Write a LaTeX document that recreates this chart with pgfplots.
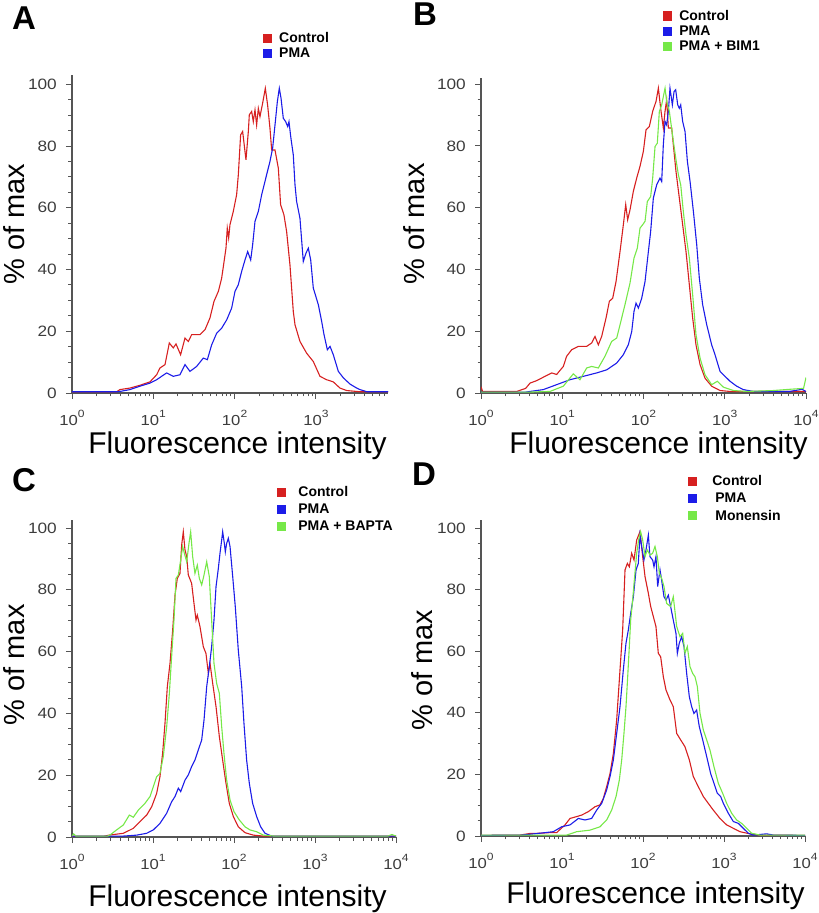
\documentclass[border=0pt]{standalone}
\usepackage{pgfplots}
\pgfplotsset{compat=1.18}
\usepackage{pgfplotstable}
\usepackage{fontspec}
\setmainfont{Liberation Sans}
\newfontfamily\tickfont[FakeStretch=1.15]{Liberation Sans}

\definecolor{cred}{RGB}{214,32,32}
\definecolor{cblue}{RGB}{28,28,232}
\definecolor{cgreen}{RGB}{118,232,72}
\definecolor{axgray}{RGB}{85,85,85}
\definecolor{tkgray}{RGB}{60,60,60}

% e = log10(fluorescence intensity), p = % of max
\pgfplotstableread[row sep=\\]{e p\\ 0 0.4\\ 0.55 0.4\\ 0.590 1.1\\ 0.713 1.6\\ 0.836 2.5\\ 0.959 3.6\\ 1.041 5.9\\ 1.082 8.1\\ 1.144 9.2\\ 1.197 16.2\\ 1.246 14.6\\ 1.279 15.9\\ 1.336 12.4\\ 1.390 17.8\\ 1.431 16.7\\ 1.472 18.9\\ 1.574 18.9\\ 1.636 20.5\\ 1.697 24.3\\ 1.747 29.7\\ 1.800 32.9\\ 1.841 37.2\\ 1.894 46.9\\ 1.910 53.4\\ 1.927 50.2\\ 1.943 54.5\\ 1.984 58.8\\ 2.025 64.2\\ 2.046 70.7\\ 2.074 83.6\\ 2.099 84.7\\ 2.140 75.5\\ 2.169 84.7\\ 2.181 90.1\\ 2.210 91.2\\ 2.230 87.9\\ 2.251 91.7\\ 2.271 86.8\\ 2.292 92.2\\ 2.312 89.5\\ 2.345 93.9\\ 2.378 98.7\\ 2.406 93.3\\ 2.435 85.8\\ 2.456 78.7\\ 2.497 78.7\\ 2.538 72.8\\ 2.566 61.0\\ 2.607 57.7\\ 2.640 52.3\\ 2.681 41.5\\ 2.722 26.4\\ 2.743 22.1\\ 2.804 16.7\\ 2.886 12.9\\ 2.968 10.2\\ 3.050 5.4\\ 3.132 4.3\\ 3.214 3.6\\ 3.296 1.6\\ 3.378 0.8\\ 3.542 0.4\\ 3.887 0.4\\}\Actrl
\pgfplotstableread[row sep=\\]{e p\\ 0 0.4\\ 0.55 0.4\\ 0.590 0.5\\ 0.713 1.1\\ 0.836 2.2\\ 0.959 3.2\\ 1.041 4.3\\ 1.164 6.5\\ 1.246 5.4\\ 1.328 5.9\\ 1.390 9.2\\ 1.451 7.0\\ 1.533 8.6\\ 1.615 11.3\\ 1.665 10.8\\ 1.718 15.6\\ 1.780 19.4\\ 1.841 21.0\\ 1.903 23.7\\ 1.964 27.5\\ 2.005 32.9\\ 2.046 35.1\\ 2.087 39.4\\ 2.128 43.1\\ 2.161 45.8\\ 2.198 43.1\\ 2.222 48.0\\ 2.251 55.6\\ 2.292 58.8\\ 2.333 64.2\\ 2.394 70.7\\ 2.435 75.0\\ 2.468 79.3\\ 2.497 86.8\\ 2.526 94.4\\ 2.550 98.7\\ 2.571 95.5\\ 2.599 89.0\\ 2.628 87.9\\ 2.653 86.3\\ 2.669 87.9\\ 2.690 83.1\\ 2.722 77.1\\ 2.743 67.4\\ 2.763 62.0\\ 2.804 56.6\\ 2.845 42.6\\ 2.878 45.3\\ 2.907 46.9\\ 2.936 43.1\\ 2.968 34.0\\ 3.030 28.6\\ 3.071 23.2\\ 3.100 18.9\\ 3.141 14.0\\ 3.174 15.1\\ 3.214 12.4\\ 3.276 7.0\\ 3.338 4.9\\ 3.419 2.9\\ 3.501 1.6\\ 3.542 1.1\\ 3.63 0.4\\ 3.887 0.4\\}\Apma

\pgfplotstableread[row sep=\\]{e p\\ 0 2\\ 0.02 0.5\\ 0.44 0.5\\ 0.55 1.5\\ 0.603 3.2\\ 0.685 4.0\\ 0.788 5.4\\ 0.870 6.5\\ 0.931 6.0\\ 1.013 8.6\\ 1.054 11.9\\ 1.116 14.0\\ 1.198 15.1\\ 1.301 15.1\\ 1.362 16.2\\ 1.403 18.3\\ 1.444 15.6\\ 1.485 18.3\\ 1.539 24.3\\ 1.580 29.7\\ 1.621 30.7\\ 1.662 36.1\\ 1.711 45.8\\ 1.752 54.5\\ 1.781 61.0\\ 1.805 56.1\\ 1.834 59.3\\ 1.875 65.3\\ 1.916 69.6\\ 1.957 73.4\\ 1.998 78.2\\ 2.031 85.2\\ 2.072 86.3\\ 2.113 91.2\\ 2.154 94.4\\ 2.183 98.7\\ 2.211 92.2\\ 2.244 85.8\\ 2.265 91.2\\ 2.285 94.9\\ 2.306 85.8\\ 2.347 85.8\\ 2.367 80.4\\ 2.400 71.7\\ 2.441 63.1\\ 2.482 54.5\\ 2.523 45.8\\ 2.564 35.1\\ 2.605 24.3\\ 2.646 15.6\\ 2.696 9.2\\ 2.757 4.8\\ 2.839 2.2\\ 2.942 0.8\\ 3.065 0.5\\ 4 0.5\\}\Bctrl
\pgfplotstableread[row sep=\\]{e p\\ 0 0.3\\ 0.55 0.3\\ 0.603 0.5\\ 0.767 1.1\\ 0.931 2.7\\ 1.095 4.3\\ 1.260 5.4\\ 1.424 6.5\\ 1.547 7.5\\ 1.670 9.7\\ 1.752 12.4\\ 1.813 15.6\\ 1.855 19.9\\ 1.883 26.4\\ 1.908 29.1\\ 1.937 27.5\\ 1.978 30.7\\ 2.019 36.1\\ 2.060 45.8\\ 2.088 52.3\\ 2.121 63.1\\ 2.162 67.4\\ 2.203 69.6\\ 2.224 68.5\\ 2.244 80.4\\ 2.265 87.9\\ 2.285 86.8\\ 2.306 91.2\\ 2.326 98.7\\ 2.355 93.3\\ 2.376 97.6\\ 2.396 98.2\\ 2.421 93.3\\ 2.441 92.2\\ 2.458 93.3\\ 2.482 87.9\\ 2.511 84.7\\ 2.540 75.0\\ 2.573 68.5\\ 2.614 58.8\\ 2.655 48.0\\ 2.687 37.2\\ 2.728 28.6\\ 2.778 22.1\\ 2.839 15.6\\ 2.880 12.4\\ 2.942 7.0\\ 3.003 5.4\\ 3.065 3.8\\ 3.147 2.2\\ 3.229 1.1\\ 3.352 0.5\\ 3.8 0.5\\ 3.95 1.2\\ 4 0.5\\}\Bpma
\pgfplotstableread[row sep=\\]{e p\\ 0 0.3\\ 0.603 0.3\\ 0.849 0.5\\ 1.013 2.2\\ 1.136 6.2\\ 1.218 4.3\\ 1.301 8.1\\ 1.362 8.6\\ 1.444 8.1\\ 1.526 11.9\\ 1.608 16.7\\ 1.670 17.8\\ 1.711 22.1\\ 1.772 28.6\\ 1.834 35.6\\ 1.883 43.7\\ 1.924 46.9\\ 1.957 53.4\\ 1.990 54.5\\ 2.019 55.6\\ 2.047 62.0\\ 2.088 63.6\\ 2.113 69.6\\ 2.142 79.8\\ 2.170 80.9\\ 2.195 91.2\\ 2.224 93.3\\ 2.265 98.7\\ 2.285 94.4\\ 2.318 91.2\\ 2.359 83.1\\ 2.400 75.5\\ 2.429 70.7\\ 2.458 67.4\\ 2.490 58.8\\ 2.523 51.2\\ 2.564 43.7\\ 2.605 31.8\\ 2.646 18.9\\ 2.696 11.3\\ 2.757 5.9\\ 2.839 2.7\\ 2.909 3.8\\ 2.983 1.9\\ 3.106 0.8\\ 3.270 0.5\\ 3.6 0.8\\ 3.8 1.2\\ 3.97 1.5\\ 4 5\\}\Bbim

\pgfplotstableread[row sep=\\]{e p\\ 0 0.3\\ 0.40 0.3\\ 0.469 0.65\\ 0.634 1.2\\ 0.757 2.8\\ 0.840 5.0\\ 0.922 7.1\\ 0.984 9.8\\ 1.045 14.1\\ 1.086 19.5\\ 1.119 27.1\\ 1.148 36.8\\ 1.177 48.7\\ 1.210 56.2\\ 1.243 67.0\\ 1.272 78.3\\ 1.300 83.7\\ 1.333 85.3\\ 1.354 94.5\\ 1.374 98.8\\ 1.395 92.9\\ 1.416 90.7\\ 1.436 84.8\\ 1.477 82.1\\ 1.506 75.6\\ 1.531 70.2\\ 1.547 71.8\\ 1.580 68.1\\ 1.621 61.6\\ 1.654 59.4\\ 1.683 53.0\\ 1.704 56.2\\ 1.737 49.7\\ 1.778 42.2\\ 1.819 32.5\\ 1.860 24.9\\ 1.901 17.4\\ 1.942 10.9\\ 1.992 6.6\\ 2.053 3.3\\ 2.136 1.4\\ 2.239 0.6\\ 2.362 0.3\\ 4 0.3\\}\Cctrl
\pgfplotstableread[row sep=\\]{e p\\ 0 0.3\\ 0.634 0.3\\ 0.798 0.6\\ 0.922 1.2\\ 1.004 2.3\\ 1.086 4.4\\ 1.169 7.7\\ 1.230 11.4\\ 1.272 13.1\\ 1.313 15.8\\ 1.342 14.7\\ 1.395 18.4\\ 1.436 20.1\\ 1.477 22.8\\ 1.518 24.9\\ 1.560 28.2\\ 1.601 31.4\\ 1.630 37.9\\ 1.663 48.7\\ 1.695 55.1\\ 1.724 61.6\\ 1.753 70.2\\ 1.778 81.0\\ 1.807 87.0\\ 1.827 91.8\\ 1.848 96.1\\ 1.860 98.8\\ 1.881 95.0\\ 1.893 92.3\\ 1.909 95.0\\ 1.930 96.7\\ 1.951 94.0\\ 1.984 84.3\\ 2.016 74.5\\ 2.053 60.5\\ 2.095 48.7\\ 2.123 36.8\\ 2.156 24.9\\ 2.189 17.4\\ 2.230 10.9\\ 2.280 6.6\\ 2.329 3.3\\ 2.383 1.2\\ 2.465 0.3\\ 4 0.3\\}\Cpma
\pgfplotstableread[row sep=\\]{e p\\ 0 0.3\\ 0.02 1.0\\ 0.05 0.3\\ 0.44 0.3\\ 0.469 0.65\\ 0.551 2.3\\ 0.634 3.9\\ 0.708 7.1\\ 0.757 6.4\\ 0.819 8.7\\ 0.901 10.9\\ 0.963 13.1\\ 1.004 16.3\\ 1.045 19.5\\ 1.086 20.6\\ 1.127 26.0\\ 1.169 35.7\\ 1.202 46.5\\ 1.230 58.4\\ 1.259 70.2\\ 1.284 83.7\\ 1.313 84.8\\ 1.342 89.7\\ 1.366 94.0\\ 1.387 91.8\\ 1.416 89.1\\ 1.444 95.0\\ 1.465 98.8\\ 1.490 90.7\\ 1.518 85.3\\ 1.547 88.0\\ 1.572 83.7\\ 1.601 81.6\\ 1.630 84.8\\ 1.663 89.1\\ 1.695 84.3\\ 1.724 70.2\\ 1.753 56.2\\ 1.786 49.7\\ 1.819 46.5\\ 1.848 35.7\\ 1.876 27.1\\ 1.909 18.5\\ 1.951 12.0\\ 2.000 8.2\\ 2.066 5.5\\ 2.136 3.3\\ 2.197 2.3\\ 2.280 1.7\\ 2.362 0.6\\ 2.5 0.3\\ 3.9 0.3\\ 3.95 0.8\\ 4 0.3\\}\Cbapta

\pgfplotstableread[row sep=\\]{e p\\ 0 0.2\\ 0.48 0.3\\ 0.60 0.8\\ 0.728 0.9\\ 0.852 1.1\\ 0.934 1.1\\ 1.037 3.6\\ 1.099 5.7\\ 1.181 6.3\\ 1.243 6.8\\ 1.325 7.9\\ 1.407 9.5\\ 1.469 10.1\\ 1.510 12.2\\ 1.551 16.0\\ 1.593 20.3\\ 1.634 26.8\\ 1.675 37.7\\ 1.716 53.9\\ 1.749 66.9\\ 1.778 86.4\\ 1.807 88.5\\ 1.831 87.4\\ 1.860 91.8\\ 1.889 89.6\\ 1.922 96.1\\ 1.963 98.8\\ 1.996 90.7\\ 2.025 84.2\\ 2.066 78.8\\ 2.095 74.5\\ 2.128 71.2\\ 2.160 68.0\\ 2.189 59.3\\ 2.218 58.2\\ 2.251 51.7\\ 2.284 47.4\\ 2.333 44.2\\ 2.374 42.0\\ 2.416 33.3\\ 2.465 31.2\\ 2.518 29.0\\ 2.572 24.7\\ 2.621 19.3\\ 2.683 16.0\\ 2.745 12.8\\ 2.806 10.6\\ 2.868 8.4\\ 2.950 5.7\\ 3.033 3.6\\ 3.115 2.5\\ 3.197 1.4\\ 3.321 0.7\\ 3.444 0.3\\ 4 0.2\\}\Dctrl
\pgfplotstableread[row sep=\\]{e p\\ 0 0.2\\ 0.5 0.3\\ 0.728 0.9\\ 0.893 1.4\\ 0.996 3.0\\ 1.099 3.6\\ 1.202 5.7\\ 1.284 5.2\\ 1.366 5.7\\ 1.428 8.4\\ 1.490 10.6\\ 1.551 14.9\\ 1.593 19.3\\ 1.634 24.7\\ 1.675 33.3\\ 1.716 42.0\\ 1.757 53.9\\ 1.790 62.6\\ 1.819 66.9\\ 1.848 72.3\\ 1.881 77.7\\ 1.914 86.4\\ 1.942 88.5\\ 1.963 97.7\\ 1.984 93.9\\ 2.012 89.6\\ 2.037 92.9\\ 2.066 97.7\\ 2.086 90.7\\ 2.119 89.6\\ 2.136 87.4\\ 2.160 90.7\\ 2.181 81.0\\ 2.210 86.4\\ 2.230 83.1\\ 2.259 77.7\\ 2.284 76.6\\ 2.313 78.2\\ 2.341 74.5\\ 2.374 70.1\\ 2.407 65.8\\ 2.424 59.3\\ 2.448 62.6\\ 2.477 64.7\\ 2.506 61.5\\ 2.539 52.8\\ 2.572 45.2\\ 2.601 42.0\\ 2.629 39.8\\ 2.662 40.9\\ 2.695 35.5\\ 2.737 31.2\\ 2.786 25.8\\ 2.835 20.3\\ 2.876 17.1\\ 2.917 13.9\\ 2.959 12.8\\ 2.992 10.6\\ 3.053 7.4\\ 3.115 4.7\\ 3.177 4.1\\ 3.238 2.5\\ 3.300 0.9\\ 3.362 0.3\\ 3.527 0.7\\ 3.609 0.3\\ 4 0.2\\}\Dpma
\pgfplotstableread[row sep=\\]{e p\\ 0 0.3\\ 1.058 0.3\\ 1.181 1.4\\ 1.346 1.9\\ 1.469 3.0\\ 1.551 5.2\\ 1.613 8.4\\ 1.667 12.8\\ 1.708 18.2\\ 1.737 24.7\\ 1.765 33.3\\ 1.790 42.0\\ 1.811 51.7\\ 1.831 61.5\\ 1.848 70.1\\ 1.872 76.6\\ 1.893 83.1\\ 1.922 91.8\\ 1.946 96.1\\ 1.971 98.8\\ 1.996 96.1\\ 2.025 90.7\\ 2.053 92.9\\ 2.086 91.2\\ 2.119 91.8\\ 2.148 94.0\\ 2.177 90.7\\ 2.202 85.3\\ 2.230 83.7\\ 2.259 81.0\\ 2.292 75.5\\ 2.341 74.5\\ 2.374 77.7\\ 2.416 68.0\\ 2.457 64.7\\ 2.490 65.8\\ 2.518 59.3\\ 2.547 61.5\\ 2.580 55.0\\ 2.613 52.8\\ 2.642 51.7\\ 2.671 48.5\\ 2.704 39.8\\ 2.745 34.4\\ 2.786 31.2\\ 2.827 27.9\\ 2.876 22.5\\ 2.930 17.1\\ 2.983 13.9\\ 3.033 10.6\\ 3.094 7.4\\ 3.156 5.2\\ 3.218 4.1\\ 3.280 2.5\\ 3.341 0.9\\ 3.444 0.3\\ 4 0.3\\}\Dmon

\newcommand{\tp}[1]{\hbox{\color{tkgray}\tickfont\fontsize{14.5}{14.5}\selectfont 10\raisebox{8pt}{\fontsize{10.5}{10.5}\selectfont #1}}}
\newcommand{\yl}[1]{\hbox{\color{tkgray}\tickfont\fontsize{15}{15}\selectfont #1}}

\pgfplotsset{
  xmin=0, xmax=4, ymin=0, ymax=103,
  scale only axis,
  axis x line=bottom, axis y line=left,
  axis line style={-, axgray, line width=1.1pt},
  tick style={axgray, line width=0.9pt},
  tick align=outside,
  major tick length=6pt, minor tick length=3.5pt,
  xtick={0,1,2,3,4},
  xticklabels={\tp{0},\tp{1},\tp{2},\tp{3},\tp{4}},
  minor xtick={0.301,0.477,0.602,0.699,0.778,0.845,0.903,0.954,1.301,1.477,1.602,1.699,1.778,1.845,1.903,1.954,2.301,2.477,2.602,2.699,2.778,2.845,2.903,2.954,3.301,3.477,3.602,3.699,3.778,3.845,3.903,3.954},
  ytick={0,20,40,60,80,100},
  yticklabels={\yl{0},\yl{20},\yl{40},\yl{60},\yl{80},\yl{100}},
  minor ytick={5,10,15,25,30,35,45,50,55,65,70,75,85,90,95},
  xticklabel style={inner sep=0pt, anchor=north, yshift=-11pt},
  yticklabel style={inner sep=0pt, anchor=east, xshift=-9pt},
  label style={font=\fontsize{30}{30}\selectfont},
  x label style={at={(axis description cs:1,0)}, anchor=north east, inner sep=0pt},
  y label style={inner sep=0pt, anchor=south, font=\fontsize{29}{29}\selectfont},
  legend cell align=left,
  legend image code/.code={\fill[#1] (0pt,-4pt) rectangle (8pt,4pt);},
  legend style={draw=none, fill=none, inner sep=0pt, anchor=north west,
    font=\bfseries\fontsize{14}{14}\selectfont, nodes={inner sep=0pt}, row sep=4pt, column sep=7pt},
  every axis plot/.append style={line width=1.1pt},
}

\begin{document}
\begin{tikzpicture}
\useasboundingbox (0,0) rectangle (819pt,913pt);

% Panel A  (x axis: log10 of fluorescence intensity)
\begin{axis}[at={(72pt,520pt)}, anchor=south west, width=316pt, height=318pt,
  xmax=3.887, ymax=103,
  xlabel={Fluorescence intensity}, ylabel={\% of max},
  x label style={yshift=-39pt, xshift=-1pt},
  y label style={at={(axis description cs:-0.149,0.531)}},
  legend style={at={(axis description cs:0.604,1.135)}}]
\addplot[cred] table[x=e, y=p]{\Actrl};
\addplot[cblue] table[x=e, y=p]{\Apma};
\legend{Control,PMA}
\end{axis}

% Panel B
\begin{axis}[at={(481pt,520pt)}, anchor=south west, width=325pt, height=315pt,
  ymax=102,
  xlabel={Fluorescence intensity}, ylabel={\% of max},
  x label style={yshift=-39pt, xshift=2pt},
  y label style={at={(axis description cs:-0.172,0.537)}},
  legend style={at={(axis description cs:0.56,1.216)}}]
\addplot[cred] table[x=e, y=p]{\Bctrl};
\addplot[cblue] table[x=e, y=p]{\Bpma};
\addplot[cgreen] table[x=e, y=p]{\Bbim};
\legend{Control,PMA,PMA + BIM1}
\end{axis}

% Panel C
\begin{axis}[at={(72pt,76pt)}, anchor=south west, width=324pt, height=317pt,
  ymax=102.6,
  xlabel={Fluorescence intensity}, ylabel={\% of max},
  x label style={yshift=-48pt, xshift=-9pt},
  y label style={at={(axis description cs:-0.145,0.543)}},
  legend style={at={(axis description cs:0.633,1.107)}, row sep=6pt, column sep=12pt}]
\addplot[cred] table[x=e, y=p]{\Cctrl};
\addplot[cblue] table[x=e, y=p]{\Cpma};
\addplot[cgreen] table[x=e, y=p]{\Cbapta};
\legend{Control,PMA,PMA + BAPTA}
\end{axis}

% Panel D
\begin{axis}[at={(481pt,77pt)}, anchor=south west, width=324pt, height=316pt,
  ymax=102.6,
  xlabel={Fluorescence intensity}, ylabel={\% of max},
  x label style={yshift=-46pt, xshift=0pt},
  y label style={at={(axis description cs:-0.148,0.525)}},
  legend style={at={(axis description cs:0.639,1.142)}, row sep=6pt, column sep=15pt}]
\addplot[cred] table[x=e, y=p]{\Dctrl};
\addplot[cblue] table[x=e, y=p]{\Dpma};
\addplot[cgreen] table[x=e, y=p]{\Dmon};
\legend{Control,\hspace{3pt}PMA,\hspace{3pt}Monensin}
\end{axis}

\node[anchor=north west, inner sep=0pt, font=\bfseries\fontsize{33}{33}\selectfont] at (12pt,906pt) {A};
\node[anchor=north west, inner sep=0pt, font=\bfseries\fontsize{33}{33}\selectfont] at (413pt,910pt) {B};
\node[anchor=north west, inner sep=0pt, font=\bfseries\fontsize{33}{33}\selectfont] at (12pt,445pt) {C};
\node[anchor=north west, inner sep=0pt, font=\bfseries\fontsize{33}{33}\selectfont] at (412pt,450pt) {D};
\end{tikzpicture}
\end{document}
